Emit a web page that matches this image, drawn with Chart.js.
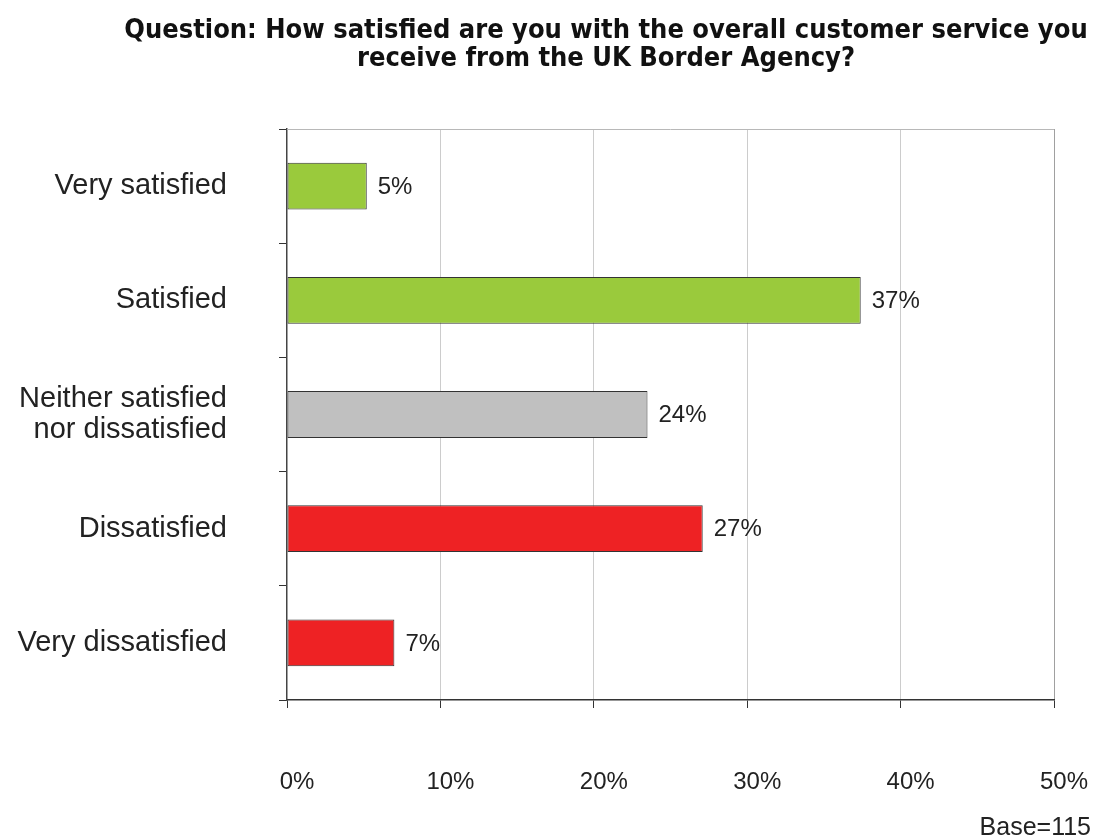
<!DOCTYPE html>
<html>
<head>
<meta charset="utf-8">
<script src="https://cdn.jsdelivr.net/npm/chart.js@4/dist/chart.umd.min.js"></script>
<style>
  html, body { margin: 0; padding: 0; background: #ffffff; }
  #wrap { width: 1099px; height: 838px; position: relative; }
</style>
</head>
<body>
<div id="wrap"><canvas id="c" width="1099" height="838"></canvas></div>
<script>
const titleLines = [
  "Question: How satisfied are you with the overall customer service you",
  "receive from the UK Border Agency?"
];
const categories = [
  "Very satisfied",
  "Satisfied",
  ["Neither satisfied", "nor dissatisfied"],
  "Dissatisfied",
  "Very dissatisfied"
];
const values = [5.2, 37.4, 23.5, 27.1, 7.0];
const valueLabels = ["5%", "37%", "24%", "27%", "7%"];
const barColors = ["#9aca3c", "#9aca3c", "#c0c0c0", "#ee2224", "#ee2224"];
const xTicks = [0, 10, 20, 30, 40, 50];
const baseNote = "Base=115";

const FONT = "'Liberation Sans', Arial, sans-serif";
const TITLE_FONT = "'Liberation Sans Narrow', 'DejaVu Sans Condensed', 'Liberation Sans', sans-serif";

const extras = {
  id: 'extras',
  afterDraw(chart) {
    const ctx = chart.ctx;
    const a = chart.chartArea;
    ctx.save();
    // top border
    ctx.strokeStyle = '#b8b8b8';
    ctx.lineWidth = 1;
    ctx.beginPath();
    ctx.moveTo(a.left, a.top + 0.5);
    ctx.lineTo(a.right, a.top + 0.5);
    ctx.stroke();
    // title
    ctx.fillStyle = '#111';
    ctx.font = "bold 27px " + TITLE_FONT;
    ctx.textAlign = 'center';
    ctx.textBaseline = 'middle';
    titleLines.forEach((t, i) => ctx.fillText(t, 606, 31 + i * 28));
    // base note
    ctx.fillStyle = '#222';
    ctx.font = "25px " + FONT;
    ctx.textAlign = 'right';
    ctx.textBaseline = 'alphabetic';
    ctx.fillText(baseNote, 1091, 835);
    ctx.restore();
  },
  afterDatasetsDraw(chart) {
    const ctx = chart.ctx;
    const meta = chart.getDatasetMeta(0);
    ctx.save();
    ctx.fillStyle = '#222';
    ctx.font = "24px " + FONT;
    ctx.textAlign = 'left';
    ctx.textBaseline = 'middle';
    meta.data.forEach((el, i) => {
      ctx.fillText(valueLabels[i], el.x + 11, el.y + 1);
    });
    ctx.restore();
  }
};

new Chart(document.getElementById('c'), {
  type: 'bar',
  data: {
    labels: categories,
    datasets: [{
      data: values,
      backgroundColor: barColors,
      borderColor: '#333',
      borderWidth: 1,
      borderSkipped: false,
      barPercentage: 0.41,
      categoryPercentage: 1.0
    }]
  },
  options: {
    indexAxis: 'y',
    responsive: false,
    animation: false,
    layout: { padding: { top: 129, right: 45, left: 0, bottom: 0 } },
    plugins: {
      legend: { display: false },
      tooltip: { enabled: false },
      title: { display: false }
    },
    scales: {
      x: {
        min: 0,
        max: 50,
        afterBuildTicks(scale) { scale.ticks = xTicks.map(v => ({ value: v })); },
        afterFit(scale) { scale.height = 138; scale.paddingLeft = 0; scale.paddingRight = 0; },
        ticks: {
          callback: v => v + '%',
          font: { size: 24, family: FONT },
          color: '#222',
          padding: 60,
          labelOffset: 10,
          maxRotation: 0
        },
        grid: {
          color: ctx => (ctx.tick && ctx.tick.value === 50) ? '#a0a0a0' : (ctx.tick && ctx.tick.value === 0 ? 'rgba(0,0,0,0)' : '#cccccc'),
          tickColor: '#333',
          tickLength: 8,
          lineWidth: 1
        },
        border: { color: '#333', width: 1.5 }
      },
      y: {
        afterFit(scale) { scale.width = 287; scale.paddingTop = 0; scale.paddingBottom = 0; },
        ticks: {
          font: { size: 29, family: FONT, lineHeight: 1.1 },
          color: '#222',
          padding: 52
        },
        grid: {
          offset: true,
          drawOnChartArea: false,
          tickColor: '#333',
          tickLength: 8
        },
        border: { color: '#444', width: 1.5 }
      }
    }
  },
  plugins: [extras]
});
</script>
</body>
</html>
